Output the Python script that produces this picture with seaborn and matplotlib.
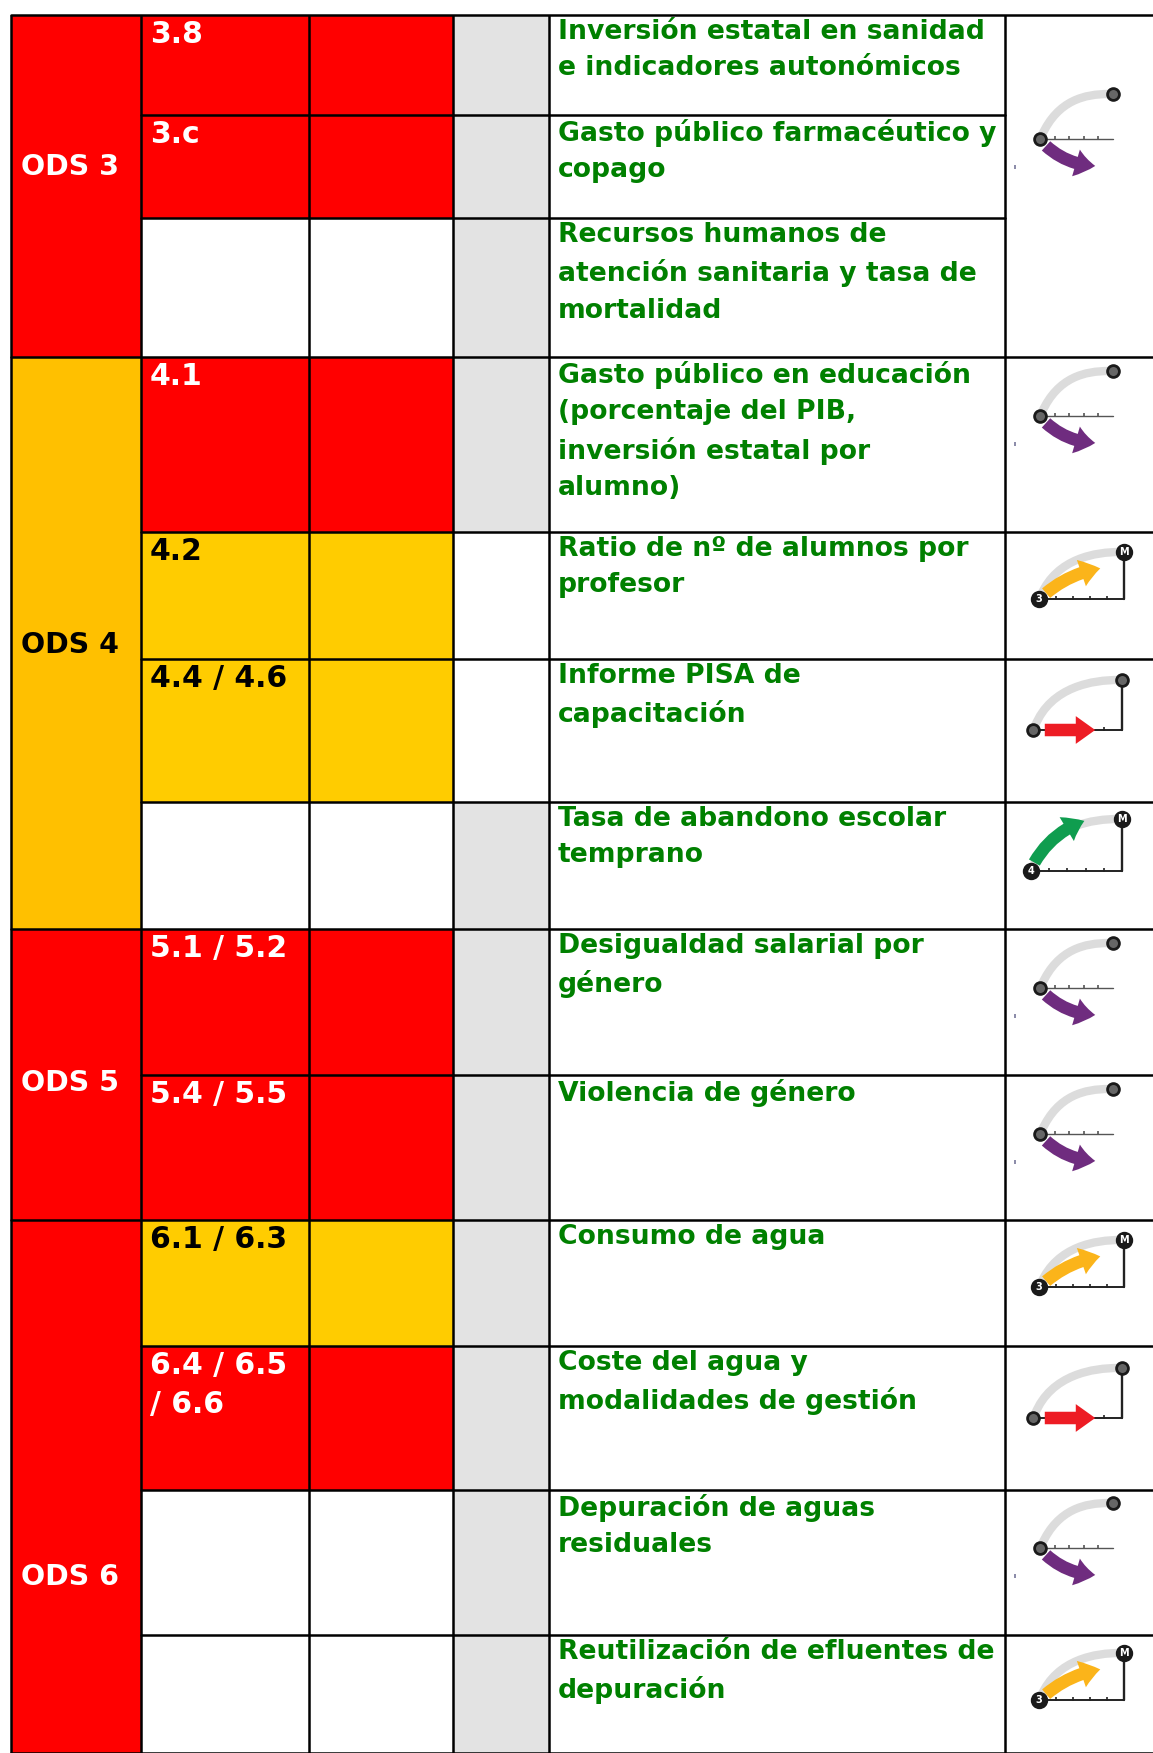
import numpy as np
import matplotlib
matplotlib.use('Agg')
import matplotlib.pyplot as plt
import seaborn as sns
from matplotlib.colors import ListedColormap
from matplotlib.patches import FancyArrowPatch, PathPatch
from matplotlib.path import Path

# table content, one entry per row
ods_names = ['ODS 3', 'ODS 4', 'ODS 5', 'ODS 6']
ods_rows = [(0, 3), (3, 7), (7, 9), (9, 13)]
targets = ['3.8', '3.c', '', '4.1', '4.2', '4.4 / 4.6', '', '5.1 / 5.2', '5.4 / 5.5',
           '6.1 / 6.3', '6.4 / 6.5\n/ 6.6', '', '']
indicators = ['Inversión estatal en sanidad\ne indicadores autonómicos',
              'Gasto público farmacéutico y\ncopago',
              'Recursos humanos de\natención sanitaria y tasa de\nmortalidad',
              'Gasto público en educación\n(porcentaje del PIB,\ninversión estatal por\nalumno)',
              'Ratio de nº de alumnos por\nprofesor',
              'Informe PISA de\ncapacitación',
              'Tasa de abandono escolar\ntemprano',
              'Desigualdad salarial por\ngénero',
              'Violencia de género',
              'Consumo de agua',
              'Coste del agua y\nmodalidades de gestión',
              'Depuración de aguas\nresiduales',
              'Reutilización de efluentes de\ndepuración']

# 0 white, 1 red, 2 dark amber, 3 amber, 4 grey
ods_status = [1, 1, 1, 2, 2, 2, 2, 1, 1, 1, 1, 1, 1]
target_status = [1, 1, 0, 1, 3, 3, 0, 1, 1, 3, 1, 0, 0]
grey_status = [4, 4, 4, 4, 0, 0, 4, 4, 4, 4, 4, 4, 4]
trend_icons = ['down', None, None, 'down', 'up', 'flat', 'good', 'down', 'down', 'up', 'flat', 'down', 'up']

# layout, in pixels of the output image
W, H = 1153, 1753
col_px = [0, 11, 141, 309, 453, 549, 1005, 1153]
row_px = [0, 14.5, 115, 218, 357, 532, 659, 802, 929, 1075, 1220, 1346, 1490, 1635, 1753]
icon_y = [139, None, None, 416, 599, 730, 871, 988, 1134, 1287, 1418, 1548, 1700]
ods_y = [167, 645, 1083, 1577]

palette = ['#ffffff', '#ff0000', '#ffc000', '#ffcc00', '#e3e3e3']
GREEN = '#008000'

sns.set_theme(style='white')
plt.rcParams['font.family'] = ['DejaVu Sans']

grid = np.zeros((len(row_px) - 1, len(col_px) - 1))
grid[1:, 1] = ods_status
grid[1:, 2] = target_status
grid[1:, 3] = target_status
grid[1:, 4] = grey_status

fig = plt.figure(figsize=(W / 100, H / 100), dpi=100)
ax = fig.add_axes([0, 0, 1, 1])
sns.heatmap(grid, cmap=ListedColormap(palette), vmin=-0.5, vmax=4.5, cbar=False,
            xticklabels=False, yticklabels=False, ax=ax)


def edge_scale(edges):
    idx = np.arange(len(edges))
    return (lambda v: np.interp(v, idx, edges), lambda v: np.interp(v, edges, idx))


# stretch the unit cells of the heatmap to the real column and row sizes
ax.set_xscale('function', functions=edge_scale(col_px))
ax.set_yscale('function', functions=edge_scale(row_px))
ax.set_xlim(0, len(col_px) - 1)
ax.set_ylim(len(row_px) - 1, 0)
ax.set_xticks([])
ax.set_yticks([])
ax.minorticks_off()

ov = fig.add_axes([0, 0, 1, 1])
ov.set_xlim(0, W)
ov.set_ylim(H, 0)
ov.axis('off')

# grid lines
lw = 1.8
for x in col_px[1:-1]:
    ov.plot([x, x], [row_px[1], H], color='black', lw=lw, solid_capstyle='butt')
ov.plot([col_px[1], W], [row_px[1], row_px[1]], color='black', lw=lw)
for first, last in ods_rows:
    ov.plot([col_px[1], W], [row_px[last + 1], row_px[last + 1]], color='black', lw=lw)
    for r in range(first + 1, last):
        x_end = col_px[6] if first == 0 else W
        ov.plot([col_px[2], x_end], [row_px[r + 1], row_px[r + 1]], color='black', lw=lw)

# text
for name, y in zip(ods_names, ods_y):
    color = 'black' if name == 'ODS 4' else 'white'
    ov.text(21, y, name, color=color, fontsize=20.5, fontweight='bold', va='center')

for i, (tgt, ind) in enumerate(zip(targets, indicators)):
    top = row_px[i + 1]
    color = 'black' if target_status[i] == 3 else 'white'
    ov.text(150, top + 5, tgt, color=color, fontsize=21.5, fontweight='bold', va='top', linespacing=1.45)
    ov.text(558, top + 4, ind, color=GREEN, fontsize=19.2, fontweight='bold', va='top', linespacing=1.52)

# trend icons
icon_shape = {
    'down': dict(x0=1040, x1=1113, rise=45, color='#6f2c7f', a=(1044, 5), b=(1098, 27), rad=0.2, end_lab='', start_lab='', frame=False, lw=1.0),
    'up': dict(x0=1039, x1=1124, rise=47, color='#fbb41a', a=(1044, -4), b=(1103, -31), rad=-0.15, end_lab='M', start_lab='3', frame=True, lw=1.4),
    'flat': dict(x0=1033, x1=1122, rise=50, color='#ed1c24', a=(1042, 0), b=(1098, 0), rad=0.0, end_lab='', start_lab='', frame=True, lw=1.4),
    'good': dict(x0=1031, x1=1122, rise=52, color='#0f9d4f', a=(1033, -6), b=(1087, -51), rad=-0.2, end_lab='M', start_lab='4', frame=True, lw=1.4),
}


def draw_icon(kind, y0):
    s = icon_shape[kind]
    x0, x1, y1 = s['x0'], s['x1'], y0 - s['rise']
    arc = Path([(x0 + 2, y0 - 4), (x0 + 18, y1 + 6), (x1 - 28, y1), (x1 - 4, y1)],
               [Path.MOVETO, Path.CURVE4, Path.CURVE4, Path.CURVE4])
    ov.add_patch(PathPatch(arc, fc='none', ec='#dcdcdc', lw=6, capstyle='butt'))
    axis_color = '#555555' if kind == 'down' else '#222222'
    ov.plot([x0, x1], [y0, y0], color=axis_color, lw=s['lw'])
    ticks = np.linspace(x0, x1, 6)[1:-1]
    ov.plot(ticks, [y0 - 1] * len(ticks), ls='none', marker='|', ms=3, mew=1.2, color=axis_color)
    if s['frame']:
        ov.plot([x1, x1], [y0, y1], color=axis_color, lw=s['lw'] + 0.3)
    else:
        ov.plot([x0 - 25], [y0 + 28], ls='none', marker='|', ms=3, mew=1.2, color='#77779a')
    arrow = FancyArrowPatch((s['a'][0], y0 + s['a'][1]), (s['b'][0], y0 + s['b'][1]),
                            connectionstyle=f"arc3,rad={s['rad']}",
                            arrowstyle='simple,head_length=14,head_width=20,tail_width=9',
                            mutation_scale=1, fc=s['color'], ec='none', zorder=4)
    ov.add_patch(arrow)
    size = 10.5 if s['start_lab'] else 8.5
    for px, py, lab in [(x0, y0, s['start_lab']), (x1, y1, s['end_lab'])]:
        ov.plot(px, py, 'o', ms=size, color='#1a1a1a', mfc='#1a1a1a' if lab else '#666666', mew=2, zorder=5)
        if lab:
            ov.text(px, py, lab, color='white', fontsize=7, fontweight='bold', ha='center', va='center', zorder=6)


for kind, y0 in zip(trend_icons, icon_y):
    if kind:
        draw_icon(kind, y0)

fig.savefig('out.png', dpi=100)
